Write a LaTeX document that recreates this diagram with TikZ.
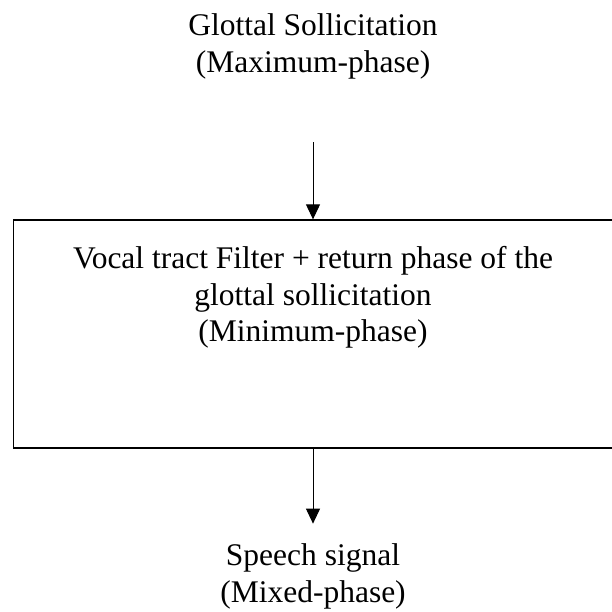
\documentclass[tikz,border=0pt]{standalone}
\usepackage{fontspec}
\setmainfont{Liberation Serif}
\usepackage{tikz}
\usetikzlibrary{positioning}
\usetikzlibrary{shapes,arrows.meta,positioning}
\tikzstyle{block} = [rectangle, draw, line width=1.3pt, minimum width=640pt, minimum height=228pt, inner sep=0pt]
\tikzstyle{txt} = [inner sep=0pt, align=center, font=\fontsize{31.5}{36.5}\selectfont]
\tikzstyle{line} = [draw, line width=1pt, -{Triangle[width=14pt,length=15pt]}]

\begin{document}
\begin{tikzpicture}[x=1pt, y=1pt, node distance = 3cm, auto]
    \useasboundingbox (0,0) rectangle (611,-612);
    % nodes
    \node [block, anchor=west] (vtf) at (12.5,-334) {};
    \node [txt, anchor=north] (vtftext) at (313,-246.5) {Vocal tract Filter + return phase of the\\ glottal sollicitation\\ (Minimum-phase)};
    \node [txt, above=140pt of vtftext.north |- vtf.north] (gs) {Glottal Sollicitation\\ (Maximum-phase)};
    \node [txt, below=95pt of vtftext.north |- vtf.south] (ss) {Speech signal\\ (Mixed-phase)};

    % edges
         \path [line, shorten <=63pt] (gs) -- (gs |- vtf.north);
         \path [line, shorten >=20pt] (ss |- vtf.south) -- (ss);

\end{tikzpicture}
\end{document}
